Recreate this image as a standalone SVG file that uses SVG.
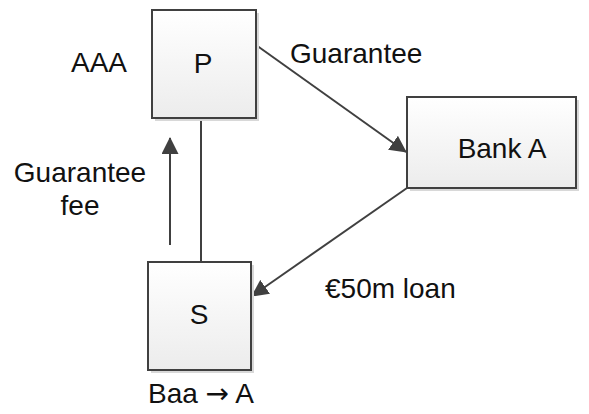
<svg xmlns="http://www.w3.org/2000/svg" width="589" height="414" viewBox="0 0 589 414">
<defs>
<linearGradient id="g" x1="0" y1="0" x2="0" y2="1"><stop offset="0" stop-color="#ffffff"/><stop offset="1" stop-color="#ececec"/></linearGradient>
<marker id="b" markerWidth="17" markerHeight="17" refX="16" refY="8.5" orient="auto" markerUnits="userSpaceOnUse" viewBox="0 0 17 17"><path d="M0,0 L17,8.5 L0,17 z" fill="#404040"/></marker>
</defs>
<style>
.box{fill:url(#g);stroke:#404040;stroke-width:2}
.sh{fill:#d8d8d8}
.t{font-family:"Liberation Sans",Arial,sans-serif;font-size:28px;fill:#111}
.c{stroke:#404040;stroke-width:2;fill:none}
</style>
<rect width="589" height="414" fill="#fff"/>
<g id="connectors">
<line class="c" x1="201" y1="118" x2="201" y2="262"/>
<line class="c" x1="170" y1="245" x2="170" y2="138" marker-end="url(#b)"/>
<line class="c" x1="256" y1="45" x2="406" y2="152" marker-end="url(#b)"/>
<line class="c" x1="407" y1="188" x2="252" y2="296" marker-end="url(#b)"/>
</g>
<g id="P">
<rect class="sh" x="155" y="13" width="104" height="108"/>
<rect class="box" x="152" y="10" width="104" height="108"/>
<text class="t" x="203" y="73" text-anchor="middle">P</text>
</g>
<g id="BankA">
<rect class="sh" x="410" y="100" width="169" height="91"/>
<rect class="box" x="407" y="97" width="169" height="91"/>
<text class="t" x="502" y="158" text-anchor="middle">Bank A</text>
</g>
<g id="S">
<rect class="sh" x="151" y="265" width="103" height="108"/>
<rect class="box" x="148" y="262" width="103" height="108"/>
<text class="t" x="199" y="324" text-anchor="middle">S</text>
</g>
<g id="labels">
<text class="t" x="127" y="72" text-anchor="end">AAA</text>
<text class="t" x="290" y="63">Guarantee</text>
<text class="t" x="80" y="182" text-anchor="middle">Guarantee</text>
<text class="t" x="80" y="215" text-anchor="middle">fee</text>
<text class="t" x="325" y="298">€50m loan</text>
<text class="t" x="148" y="403">Baa <tspan font-family="'DejaVu Sans',sans-serif" font-size="28">→</tspan> A</text>
</g>
</svg>
